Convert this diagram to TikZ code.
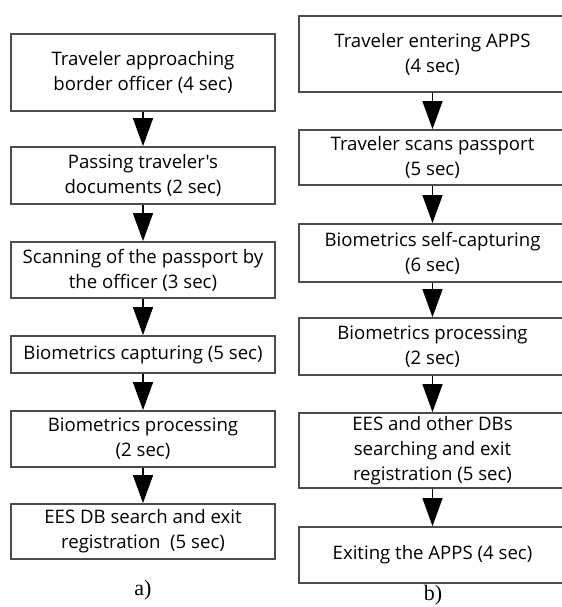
\documentclass[tikz,border=0pt]{standalone}
\usepackage{fontspec}
\setmainfont{Liberation Serif}
\newfontfamily\boxfont{Open Sans}
\usetikzlibrary{arrows.meta}

\begin{document}
\begin{tikzpicture}[x=0.5pt,y=-0.5pt,
  stepbox/.style={draw=black!70,line width=0.9pt,align=center,inner sep=0pt,
    font=\boxfont\fontsize{9.3}{12.5}\selectfont},
  leftbox/.style={stepbox,minimum width=132pt},
  rightbox/.style={stepbox,minimum width=133.5pt},
  flow/.style={-{Triangle[length=14pt,width=10pt]},line width=0.75pt}]
\useasboundingbox (0,0) rectangle (562,607);
% a) officer at the border
\node [leftbox,minimum height=38.5pt] (a1) at (143,72.5) {Traveler approaching\\border officer (4 sec)};
\node [leftbox,minimum height=28.5pt] (a2) at (143,175.5) {Passing traveler's\\documents (2 sec)};
\node [leftbox,minimum height=28pt] (a3) at (143,270) {Scanning of the passport by\\the officer (3 sec)};
\node [leftbox,minimum height=18.5pt] (a4) at (143,354.5) {Biometrics capturing (5 sec)};
\node [leftbox,minimum height=28pt] (a5) at (143,439) {Biometrics processing\\(2 sec)};
\node [leftbox,minimum height=27.5pt] (a6) at (143,531.5) {EES DB search and exit\\registration~~(5 sec)};
\node [font=\fontsize{11}{13}\selectfont] (capa) at (143,590) {a)};
% b) APPS
\node [rightbox,minimum height=38pt] (b1) at (432.5,54) {Traveler entering APPS\\(4 sec)};
\node [rightbox,minimum height=27.5pt] (b2) at (432.5,157.5) {Traveler scans passport\\(5 sec)};
\node [rightbox,minimum height=29pt] (b3) at (432.5,253) {Biometrics self-capturing\\(6 sec)};
\node [rightbox,minimum height=28.5pt] (b4) at (432.5,346.5) {Biometrics processing\\(2 sec)};
\node [rightbox,minimum height=37.5pt] (b5) at (432.5,450.5) {EES and other DBs\\searching and exit\\registration (5 sec)};
\node [rightbox,minimum height=28pt] (b6) at (432.5,555) {Exiting the APPS (4 sec)};
\node [font=\fontsize{11}{13}\selectfont] (capb) at (433,595) {b)};
\foreach \u/\v in {a1/a2,a2/a3,a3/a4,a4/a5,a5/a6,b1/b2,b2/b3,b3/b4,b4/b5,b5/b6}
  {\draw [flow] (\u) -- (\v);}
\end{tikzpicture}
\end{document}
